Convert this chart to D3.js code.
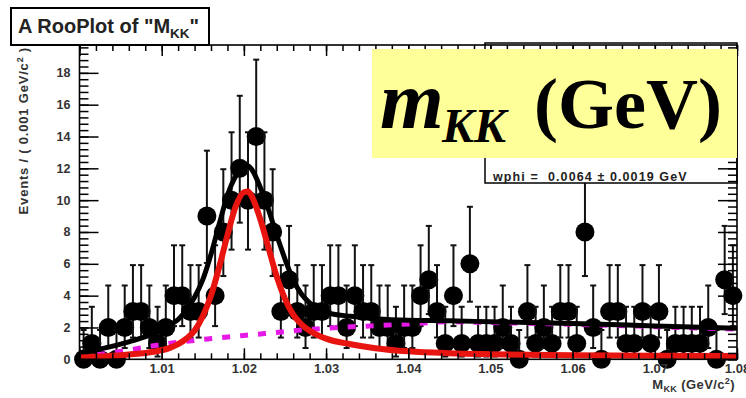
<!DOCTYPE html>
<html>
<head>
<meta charset="utf-8">
<script src="https://cdn.jsdelivr.net/npm/d3@7"></script>
<style>
  body { margin: 0; background: #fff; }
  svg { display: block; font-family: "Liberation Sans", Arial, sans-serif; }
</style>
</head>
<body>
<div id="view"></div>
<script>
// events per 0.001 GeV bin, 1.000 -> 1.080
const counts = [
  0, 1, 0, 2, 0, 2, 3, 3, 2, 1,
  2, 4, 4, 3, 3, 9, 4, 8, 10, 12,
  10, 14, 10, 8, 3, 5, 3, 2, 3, 3,
  4, 4, 2, 4, 3, 3, 2, 2, 1, 2,
  2, 4, 5, 3, 1, 4, 1, 6, 1, 1,
  1, 2, 1, 0, 3, 1, 2, 1, 3, 3,
  1, 8, 2, 0, 3, 3, 1, 1, 3, 1,
  3, 0, 1, 1, 1, 1, 2, 0, 5, 4
];
// poisson 68% interval, indexed by count
const errLo = [0, 0.827, 1.292, 1.633, 1.914, 2.160, 2.380, 2.581, 2.768, 2.943, 3.109, 3.265, 3.415, 3.560, 3.700];
const errHi = [1.841, 2.300, 2.638, 2.918, 3.163, 3.382, 3.584, 3.770, 3.945, 4.110, 4.266, 4.416, 4.559, 4.698, 4.830];

// fit curves
const massGrid  = [1.000, 1.003, 1.006, 1.009, 1.011, 1.012, 1.013, 1.014, 1.015, 1.016, 1.017, 1.018, 1.019, 1.020, 1.0205, 1.021,
                   1.022, 1.023, 1.024, 1.025, 1.026, 1.027, 1.028, 1.030, 1.033, 1.036, 1.040, 1.045, 1.050, 1.060, 1.070, 1.080];
const totalFit  = [0.40, 0.70, 1.10, 1.60, 2.15, 2.50, 3.10, 3.90, 5.00, 6.60, 8.50, 10.3, 11.5, 12.1, 12.15, 11.9,
                   10.8, 9.40, 7.80, 6.30, 5.00, 4.10, 3.55, 2.95, 2.70, 2.55, 2.45, 2.42, 2.36, 2.25, 2.10, 1.95];
const signalFit = [0.12, 0.19, 0.30, 0.47, 0.72, 0.95, 1.30, 1.80, 2.70, 4.00, 5.80, 7.80, 9.60, 10.5, 10.55, 10.2,
                   8.80, 7.00, 5.20, 3.80, 2.80, 2.20, 1.80, 1.30, 0.95, 0.70, 0.50, 0.38, 0.32, 0.26, 0.22, 0.20];
const bkgFit    = [0.15, 0.35, 0.58, 0.85, 1.00, 1.07, 1.13, 1.19, 1.25, 1.30, 1.35, 1.40, 1.45, 1.50, 1.52, 1.54,
                   1.59, 1.64, 1.69, 1.74, 1.79, 1.84, 1.88, 1.95, 2.04, 2.11, 2.22, 2.36, 2.31, 2.20, 2.05, 1.90];

const xTickLabels = ["1.01", "1.02", "1.03", "1.04", "1.05", "1.06", "1.07", "1.08"];
const yTickLabels = ["0", "2", "4", "6", "8", "10", "12", "14", "16", "18"];

const W = 746, H = 398;
const padL = 79.5, padR = 737, padT = 45, padB = 359.3;
const binW = 0.001, xMin = 1.00, xMax = 1.08, yMax = 19.75;

const svg = d3.select("#view").append("svg")
  .attr("width", W).attr("height", H);

const x = d3.scaleLinear().domain([xMin, xMax]).range([padL, padR]);
const y = d3.scaleLinear().domain([0, yMax]).range([padB, padT]);

// data points with error bars
const pts = counts.map((n, i) => ({ m: xMin + (i + 0.5) * binW, n: n }));
const gData = svg.append("g");
const bars = gData.selectAll("g.pt").data(pts).enter().append("g").attr("class", "pt");
bars.append("line")
  .attr("x1", d => x(d.m)).attr("x2", d => x(d.m))
  .attr("y1", d => y(d.n + errHi[d.n])).attr("y2", d => y(Math.max(0, d.n - errLo[d.n])))
  .attr("stroke", "#111").attr("stroke-width", 2);
bars.append("line")
  .attr("x1", d => x(d.m) - 3).attr("x2", d => x(d.m) + 3)
  .attr("y1", d => y(d.n + errHi[d.n])).attr("y2", d => y(d.n + errHi[d.n]))
  .attr("stroke", "#111").attr("stroke-width", 2);
bars.filter(d => d.n > 0).append("line")
  .attr("x1", d => x(d.m) - 3).attr("x2", d => x(d.m) + 3)
  .attr("y1", d => y(d.n - errLo[d.n])).attr("y2", d => y(d.n - errLo[d.n]))
  .attr("stroke", "#111").attr("stroke-width", 2);
bars.append("circle")
  .attr("cx", d => x(d.m)).attr("cy", d => y(d.n)).attr("r", 9.5)
  .attr("fill", "#000");

// fit curves
const line = d3.line().x(d => x(d[0])).y(d => y(d[1])).curve(d3.curveMonotoneX);
svg.append("path").datum(d3.zip(massGrid, bkgFit)).attr("d", line)
  .attr("fill", "none").attr("stroke", "#e619e6").attr("stroke-width", 5)
  .attr("stroke-dasharray", "8,10");
svg.append("path").datum(d3.zip(massGrid, totalFit)).attr("d", line)
  .attr("fill", "none").attr("stroke", "#000").attr("stroke-width", 5);
svg.append("path").datum(d3.zip(massGrid, signalFit)).attr("d", line)
  .attr("fill", "none").attr("stroke", "#e8140f").attr("stroke-width", 6);

// parameter box (mostly hidden behind the label)
svg.append("rect").attr("x", 485).attr("y", 43).attr("width", 252).attr("height", 140)
  .attr("fill", "#fff").attr("stroke", "#000").attr("stroke-width", 1.5);
svg.append("text").attr("x", 493).attr("y", 181)
  .style("white-space", "pre")
  .attr("font-size", 12.5).attr("letter-spacing", 1.1).attr("font-weight", "bold").attr("fill", "#222")
  .text("wphi =  0.0064 \u00b1 0.0019 GeV");

// frame and ticks
const xMajor = [xMin].concat(xTickLabels.map(Number));
const xMinor = d3.range(0, 41).map(k => xMin + k * 0.002);
const yMajor = yTickLabels.map(Number);
const yMinor = d3.range(0, 50).map(k => k * 0.4).filter(v => v <= yMax);

function tickGroup(axis, tf) {
  const g = svg.append("g").attr("transform", tf).call(axis);
  g.select(".domain").remove();
  g.selectAll("line").attr("stroke", "#000").attr("stroke-width", 1.5);
  return g;
}
tickGroup(d3.axisBottom(x).tickValues(xMinor).tickSize(-6).tickFormat(""), `translate(0,${padB})`);
const gx = tickGroup(d3.axisBottom(x).tickValues(xMajor).tickSize(-11).tickPadding(4)
  .tickFormat(v => v === xMin ? "" : d3.format(".2f")(v)), `translate(0,${padB})`);
gx.selectAll("text").attr("font-size", 13).attr("font-weight", "bold").attr("fill", "#333")
  .attr("font-family", "Liberation Sans, Arial, sans-serif");
tickGroup(d3.axisTop(x).tickValues(xMinor).tickSize(-6).tickFormat(""), `translate(0,${padT})`);
tickGroup(d3.axisTop(x).tickValues(xMajor).tickSize(-11).tickFormat(""), `translate(0,${padT})`);

tickGroup(d3.axisLeft(y).tickValues(yMinor).tickSize(-9).tickFormat(""), `translate(${padL},0)`);
const gy = tickGroup(d3.axisLeft(y).tickValues(yMajor).tickSize(-19).tickPadding(9), `translate(${padL},0)`);
gy.selectAll("text").attr("font-size", 12.5).attr("font-weight", "bold").attr("fill", "#333")
  .attr("font-family", "Liberation Sans, Arial, sans-serif");
tickGroup(d3.axisRight(y).tickValues(yMinor).tickSize(-9).tickFormat(""), `translate(${padR},0)`);
tickGroup(d3.axisRight(y).tickValues(yMajor).tickSize(-19).tickFormat(""), `translate(${padR},0)`);

svg.append("rect").attr("x", padL).attr("y", padT).attr("width", padR - padL).attr("height", padB - padT)
  .attr("fill", "none").attr("stroke", "#000").attr("stroke-width", 1.6);

// axis titles
const yt = svg.append("text").attr("transform", `translate(28,47) rotate(-90)`)
  .attr("text-anchor", "end").attr("font-size", 13).attr("letter-spacing", 0.8)
  .attr("font-weight", "bold").attr("fill", "#333");
yt.append("tspan").text("Events / ( 0.001 GeV/c");
yt.append("tspan").attr("font-size", 9).attr("dy", -5).text("2");
yt.append("tspan").attr("dy", 5).text(" )");

const xt = svg.append("text").attr("x", 735).attr("y", 389)
  .attr("text-anchor", "end").attr("font-size", 13).attr("letter-spacing", 0.4)
  .attr("font-weight", "bold").attr("fill", "#333");
xt.append("tspan").text("M");
xt.append("tspan").attr("font-size", 9).attr("dy", 3).text("KK");
xt.append("tspan").attr("dy", -3).text(" (GeV/c");
xt.append("tspan").attr("font-size", 9).attr("dy", -5).text("2");
xt.append("tspan").attr("dy", 5).text(")");

// title box
svg.append("rect").attr("x", 11).attr("y", 8).attr("width", 198).attr("height", 37)
  .attr("fill", "#fff").attr("stroke", "#000").attr("stroke-width", 2);
const tt = svg.append("text").attr("x", 18).attr("y", 33)
  .attr("font-size", 20).attr("font-weight", "bold").attr("fill", "#222");
tt.append("tspan").text("A RooPlot of \"M");
tt.append("tspan").attr("font-size", 13.5).attr("dy", 5).text("KK");
tt.append("tspan").attr("dy", -5).text("\"");

// yellow label
svg.append("rect").attr("x", 372).attr("y", 49).attr("width", 365).attr("height", 109)
  .attr("fill", "#ffff99");
const lab = svg.append("g").attr("font-family", "Liberation Serif, Times New Roman, serif")
  .attr("font-weight", "bold").attr("fill", "#000");
lab.append("text").attr("x", 380).attr("y", 128).attr("font-size", 82).attr("font-style", "italic").text("m");
lab.append("text").attr("x", 442).attr("y", 142).attr("font-size", 48).attr("font-style", "italic").text("KK");
lab.append("text").attr("x", 534).attr("y", 128).attr("font-size", 72).text("(GeV)");
</script>
</body>
</html>
